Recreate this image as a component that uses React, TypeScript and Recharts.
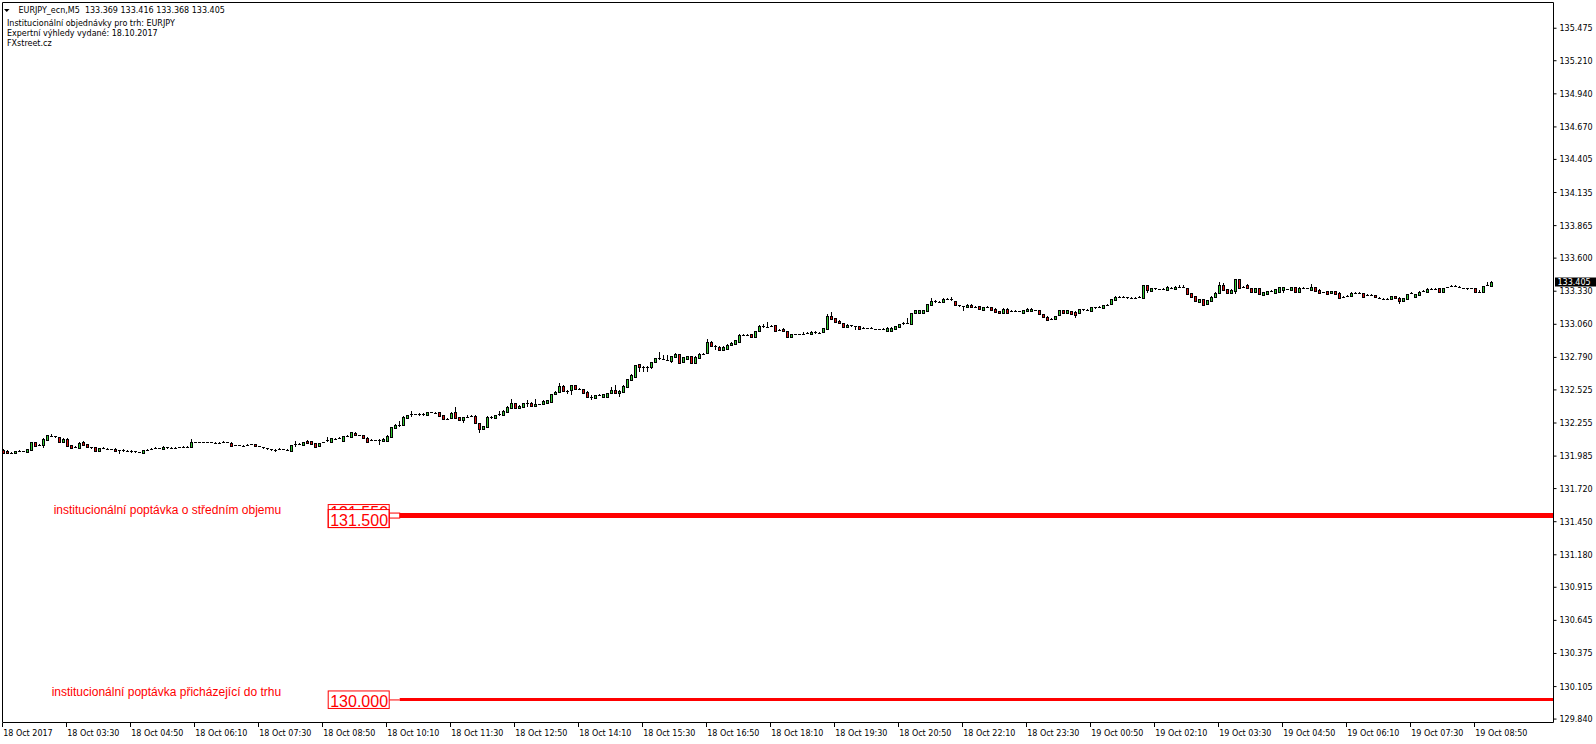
import React from "react";
import { ComposedChart, Bar, XAxis, YAxis, ReferenceLine } from "recharts";

// EURJPY_ecn M5, 18 Oct 2017 02:10 → 19 Oct 2017 09:10, one row per 80 minutes (16 bars)
const OPEN = [
  132.035, 132.030, 132.013, 132.011, 132.027, 132.028, 132.016, 132.035, 132.098, 132.070, 132.073, 132.119, 132.152, 132.150, 132.138, 132.103,
  132.125, 132.076, 132.062, 132.054, 132.100, 132.081, 132.057, 132.057, 132.024, 132.049, 132.046, 132.043, 132.046, 132.032, 132.032, 132.030,
  132.027, 132.024, 132.016, 132.011, 132.035, 132.038, 132.046, 132.049, 132.040, 132.057, 132.054, 132.051, 132.054, 132.057, 132.059, 132.062,
  132.100, 132.100, 132.098, 132.098, 132.098, 132.095, 132.095, 132.095, 132.100, 132.095, 132.073, 132.073, 132.070, 132.070, 132.078, 132.081,
  132.068, 132.060, 132.048, 132.040, 132.038, 132.040, 132.043, 132.038, 132.030, 132.076, 132.081, 132.073, 132.111, 132.108, 132.089, 132.068,
  132.095, 132.110, 132.100, 132.127, 132.127, 132.111, 132.149, 132.144, 132.176, 132.157, 132.157, 132.136, 132.117, 132.114, 132.111, 132.105,
  132.112, 132.144, 132.218, 132.238, 132.240, 132.299, 132.321, 132.327, 132.327, 132.325, 132.321, 132.343, 132.340, 132.343, 132.321, 132.289,
  132.294, 132.343, 132.305, 132.280, 132.305, 132.307, 132.316, 132.253, 132.204, 132.226, 132.307, 132.294, 132.321, 132.321, 132.348, 132.381,
  132.419, 132.381, 132.389, 132.419, 132.422, 132.397, 132.408, 132.411, 132.422, 132.430, 132.490, 132.506, 132.558, 132.514, 132.525, 132.566,
  132.530, 132.530, 132.509, 132.465, 132.457, 132.484, 132.465, 132.465, 132.498, 132.525, 132.503, 132.511, 132.552, 132.607, 132.634, 132.734,
  132.710, 132.715, 132.710, 132.756, 132.783, 132.775, 132.772, 132.764, 132.797, 132.816, 132.756, 132.781, 132.802, 132.748, 132.786, 132.819,
  132.824, 132.919, 132.887, 132.878, 132.851, 132.860, 132.889, 132.900, 132.919, 132.974, 132.971, 132.982, 132.960, 133.006, 133.045, 133.036,
  133.042, 133.055, 133.009, 133.025, 133.006, 132.955, 132.982, 132.979, 132.982, 132.984, 132.979, 133.001, 132.993, 132.995, 133.022, 133.128,
  133.109, 133.090, 133.069, 133.042, 133.052, 133.045, 133.047, 133.025, 133.028, 133.025, 133.022, 133.020, 133.020, 133.009, 133.009, 133.022,
  133.042, 133.061, 133.069, 133.061, 133.150, 133.156, 133.150, 133.172, 133.218, 133.251, 133.245, 133.243, 133.270, 133.264, 133.251, 133.215,
  133.210, 133.199, 133.221, 133.205, 133.207, 133.177, 133.202, 133.199, 133.186, 133.169, 133.150, 133.188, 133.172, 133.172, 133.169, 133.156,
  133.172, 133.172, 133.177, 133.175, 133.142, 133.123, 133.107, 133.104, 133.134, 133.177, 133.150, 133.169, 133.164, 133.150, 133.183, 133.175,
  133.172, 133.199, 133.194, 133.194, 133.218, 133.226, 133.259, 133.286, 133.286, 133.283, 133.273, 133.278, 133.278, 133.278, 133.381, 133.335,
  133.357, 133.346, 133.343, 133.341, 133.360, 133.346, 133.365, 133.368, 133.354, 133.313, 133.290, 133.245, 133.264, 133.224, 133.254, 133.286,
  133.313, 133.379, 133.349, 133.313, 133.332, 133.428, 133.360, 133.381, 133.354, 133.327, 133.354, 133.303, 133.308, 133.332, 133.319, 133.327,
  133.341, 133.346, 133.341, 133.365, 133.327, 133.357, 133.354, 133.341, 133.365, 133.341, 133.324, 133.332, 133.313, 133.332, 133.319, 133.283,
  133.286, 133.294, 133.319, 133.316, 133.316, 133.292, 133.300, 133.300, 133.278, 133.270, 133.267, 133.267, 133.289, 133.278, 133.254, 133.270,
  133.305, 133.286, 133.300, 133.327, 133.322, 133.351, 133.351, 133.357, 133.322, 133.362, 133.365, 133.370, 133.368, 133.357, 133.354, 133.351,
  133.357, 133.327, 133.322, 133.373, 133.369,
];

const HIGH = [
  132.040, 132.036, 132.016, 132.030, 132.035, 132.030, 132.043, 132.103, 132.103, 132.084, 132.130, 132.160, 132.163, 132.152, 132.144, 132.130,
  132.130, 132.079, 132.070, 132.100, 132.106, 132.084, 132.062, 132.062, 132.051, 132.057, 132.049, 132.046, 132.049, 132.038, 132.040, 132.035,
  132.032, 132.030, 132.019, 132.038, 132.046, 132.054, 132.057, 132.052, 132.065, 132.062, 132.057, 132.057, 132.059, 132.068, 132.068, 132.122,
  132.103, 132.103, 132.101, 132.101, 132.100, 132.098, 132.098, 132.111, 132.103, 132.098, 132.076, 132.076, 132.073, 132.084, 132.084, 132.084,
  132.070, 132.062, 132.052, 132.046, 132.043, 132.049, 132.046, 132.040, 132.076, 132.108, 132.089, 132.103, 132.116, 132.111, 132.092, 132.095,
  132.100, 132.138, 132.133, 132.136, 132.138, 132.152, 132.157, 132.185, 132.182, 132.160, 132.160, 132.138, 132.125, 132.117, 132.125, 132.131,
  132.155, 132.226, 132.244, 132.272, 132.310, 132.324, 132.356, 132.330, 132.340, 132.336, 132.346, 132.346, 132.343, 132.346, 132.324, 132.292,
  132.343, 132.384, 132.308, 132.308, 132.318, 132.324, 132.322, 132.256, 132.234, 132.310, 132.313, 132.324, 132.356, 132.357, 132.392, 132.449,
  132.422, 132.405, 132.422, 132.443, 132.425, 132.449, 132.414, 132.441, 132.444, 132.495, 132.514, 132.585, 132.561, 132.528, 132.569, 132.569,
  132.538, 132.533, 132.512, 132.481, 132.487, 132.495, 132.495, 132.501, 132.547, 132.563, 132.522, 132.561, 132.615, 132.653, 132.732, 132.737,
  132.723, 132.723, 132.756, 132.786, 132.838, 132.808, 132.808, 132.805, 132.824, 132.819, 132.794, 132.805, 132.805, 132.800, 132.822, 132.824,
  132.938, 132.922, 132.892, 132.881, 132.881, 132.898, 132.914, 132.936, 132.977, 132.979, 132.982, 132.985, 133.009, 133.053, 133.063, 133.077,
  133.058, 133.058, 133.022, 133.028, 133.009, 132.985, 132.985, 132.985, 132.995, 132.995, 133.004, 133.004, 133.001, 133.031, 133.145, 133.164,
  133.112, 133.093, 133.072, 133.060, 133.055, 133.047, 133.050, 133.042, 133.030, 133.039, 133.025, 133.023, 133.028, 133.036, 133.036, 133.050,
  133.064, 133.077, 133.109, 133.153, 133.180, 133.180, 133.180, 133.229, 133.273, 133.256, 133.254, 133.273, 133.273, 133.281, 133.254, 133.218,
  133.213, 133.224, 133.224, 133.208, 133.210, 133.205, 133.213, 133.202, 133.189, 133.172, 133.191, 133.191, 133.175, 133.175, 133.172, 133.178,
  133.191, 133.191, 133.180, 133.178, 133.145, 133.126, 133.110, 133.131, 133.178, 133.180, 133.178, 133.172, 133.167, 133.186, 133.186, 133.188,
  133.202, 133.202, 133.207, 133.218, 133.224, 133.267, 133.289, 133.294, 133.292, 133.286, 133.286, 133.286, 133.289, 133.384, 133.384, 133.360,
  133.360, 133.349, 133.357, 133.371, 133.365, 133.370, 133.378, 133.378, 133.357, 133.316, 133.293, 133.270, 133.267, 133.259, 133.289, 133.322,
  133.403, 133.395, 133.352, 133.344, 133.431, 133.431, 133.376, 133.387, 133.357, 133.357, 133.357, 133.325, 133.335, 133.340, 133.349, 133.365,
  133.365, 133.349, 133.368, 133.368, 133.363, 133.362, 133.357, 133.390, 133.368, 133.344, 133.327, 133.335, 133.335, 133.335, 133.322, 133.294,
  133.300, 133.322, 133.324, 133.324, 133.319, 133.308, 133.308, 133.303, 133.281, 133.273, 133.275, 133.292, 133.292, 133.281, 133.276, 133.308,
  133.321, 133.311, 133.330, 133.338, 133.354, 133.359, 133.359, 133.360, 133.360, 133.368, 133.378, 133.378, 133.371, 133.360, 133.360, 133.357,
  133.360, 133.338, 133.376, 133.409, 133.416,
];

const LOW = [
  132.005, 132.006, 132.010, 132.008, 132.020, 132.024, 132.013, 132.030, 132.065, 132.065, 132.049, 132.116, 132.138, 132.136, 132.097, 132.100,
  132.068, 132.046, 132.054, 132.049, 132.073, 132.054, 132.040, 132.019, 132.019, 132.040, 132.040, 132.038, 132.021, 132.002, 132.016, 132.016,
  132.013, 132.011, 132.008, 132.008, 132.030, 132.035, 132.040, 132.046, 132.038, 132.046, 132.040, 132.049, 132.051, 132.051, 132.051, 132.059,
  132.097, 132.095, 132.095, 132.095, 132.092, 132.092, 132.092, 132.092, 132.092, 132.068, 132.070, 132.068, 132.068, 132.068, 132.076, 132.062,
  132.065, 132.043, 132.032, 132.030, 132.021, 132.038, 132.038, 132.030, 132.021, 132.062, 132.073, 132.070, 132.086, 132.081, 132.059, 132.065,
  132.092, 132.100, 132.097, 132.119, 132.122, 132.108, 132.141, 132.141, 132.155, 132.155, 132.127, 132.089, 132.108, 132.108, 132.076, 132.100,
  132.108, 132.131, 132.215, 132.226, 132.237, 132.296, 132.307, 132.324, 132.313, 132.316, 132.318, 132.337, 132.335, 132.313, 132.283, 132.280,
  132.291, 132.296, 132.277, 132.259, 132.297, 132.305, 132.250, 132.172, 132.201, 132.223, 132.291, 132.291, 132.316, 132.318, 132.345, 132.378,
  132.378, 132.375, 132.386, 132.389, 132.394, 132.389, 132.405, 132.408, 132.419, 132.427, 132.487, 132.503, 132.511, 132.492, 132.484, 132.527,
  132.522, 132.500, 132.462, 132.443, 132.454, 132.478, 132.462, 132.462, 132.495, 132.500, 132.471, 132.508, 132.549, 132.604, 132.631, 132.675,
  132.672, 132.672, 132.694, 132.753, 132.772, 132.769, 132.769, 132.743, 132.794, 132.745, 132.753, 132.778, 132.745, 132.745, 132.783, 132.808,
  132.821, 132.884, 132.851, 132.851, 132.848, 132.857, 132.886, 132.897, 132.916, 132.963, 132.963, 132.952, 132.957, 133.003, 133.030, 133.033,
  133.036, 133.006, 133.003, 133.000, 132.957, 132.949, 132.976, 132.976, 132.976, 132.979, 132.976, 132.985, 132.985, 132.992, 133.019, 133.101,
  133.077, 133.066, 133.039, 133.036, 133.039, 133.014, 133.022, 133.022, 133.022, 133.020, 133.017, 133.017, 133.011, 133.006, 133.006, 133.019,
  133.039, 133.058, 133.061, 133.058, 133.147, 133.153, 133.147, 133.169, 133.215, 133.237, 133.237, 133.240, 133.256, 133.251, 133.212, 133.202,
  133.172, 133.196, 133.202, 133.202, 133.180, 133.174, 133.196, 133.174, 133.161, 133.147, 133.147, 133.153, 133.169, 133.169, 133.164, 133.153,
  133.169, 133.169, 133.172, 133.139, 133.115, 133.093, 133.104, 133.101, 133.131, 133.147, 133.147, 133.139, 133.115, 133.147, 133.167, 133.172,
  133.169, 133.186, 133.191, 133.191, 133.215, 133.223, 133.256, 133.278, 133.275, 133.264, 133.270, 133.270, 133.273, 133.275, 133.319, 133.332,
  133.341, 133.338, 133.338, 133.338, 133.346, 133.343, 133.357, 133.354, 133.303, 133.278, 133.243, 133.240, 133.215, 133.221, 133.251, 133.283,
  133.310, 133.338, 133.316, 133.310, 133.305, 133.357, 133.357, 133.351, 133.319, 133.324, 133.302, 133.300, 133.305, 133.324, 133.316, 133.324,
  133.319, 133.343, 133.338, 133.321, 133.324, 133.346, 133.349, 133.338, 133.327, 133.310, 133.321, 133.305, 133.310, 133.305, 133.275, 133.278,
  133.281, 133.291, 133.308, 133.308, 133.283, 133.292, 133.292, 133.278, 133.272, 133.264, 133.259, 133.264, 133.270, 133.226, 133.251, 133.267,
  133.305, 133.283, 133.297, 133.322, 133.319, 133.343, 133.343, 133.319, 133.319, 133.360, 133.362, 133.362, 133.362, 133.351, 133.343, 133.348,
  133.324, 133.316, 133.319, 133.370, 133.368,
];

const CLOSE = [
  132.011, 132.010, 132.012, 132.027, 132.028, 132.027, 132.040, 132.098, 132.068, 132.076, 132.127, 132.155, 132.153, 132.144, 132.100, 132.125,
  132.070, 132.051, 132.062, 132.095, 132.076, 132.057, 132.057, 132.024, 132.049, 132.049, 132.043, 132.040, 132.024, 132.032, 132.030, 132.027,
  132.024, 132.019, 132.013, 132.035, 132.038, 132.046, 132.049, 132.049, 132.062, 132.054, 132.049, 132.054, 132.057, 132.059, 132.059, 132.100,
  132.100, 132.098, 132.098, 132.098, 132.095, 132.095, 132.095, 132.103, 132.095, 132.070, 132.073, 132.070, 132.070, 132.076, 132.081, 132.065,
  132.068, 132.051, 132.040, 132.038, 132.035, 132.046, 132.040, 132.035, 132.073, 132.081, 132.081, 132.100, 132.089, 132.084, 132.062, 132.092,
  132.098, 132.117, 132.130, 132.127, 132.130, 132.149, 132.149, 132.182, 132.157, 132.157, 132.130, 132.100, 132.117, 132.111, 132.117, 132.128,
  132.152, 132.222, 132.240, 132.242, 132.307, 132.321, 132.327, 132.327, 132.325, 132.327, 132.343, 132.340, 132.338, 132.316, 132.286, 132.289,
  132.340, 132.299, 132.280, 132.305, 132.307, 132.316, 132.253, 132.204, 132.231, 132.307, 132.299, 132.321, 132.329, 132.354, 132.389, 132.419,
  132.381, 132.395, 132.419, 132.422, 132.397, 132.408, 132.411, 132.438, 132.441, 132.492, 132.511, 132.558, 132.514, 132.520, 132.566, 132.530,
  132.530, 132.503, 132.465, 132.465, 132.484, 132.487, 132.492, 132.498, 132.525, 132.503, 132.514, 132.558, 132.612, 132.650, 132.729, 132.710,
  132.715, 132.715, 132.753, 132.783, 132.778, 132.772, 132.772, 132.802, 132.821, 132.748, 132.791, 132.802, 132.748, 132.797, 132.819, 132.816,
  132.919, 132.887, 132.884, 132.854, 132.878, 132.895, 132.911, 132.933, 132.974, 132.971, 132.974, 132.955, 133.006, 133.050, 133.036, 133.042,
  133.050, 133.009, 133.014, 133.003, 132.960, 132.982, 132.979, 132.982, 132.984, 132.987, 133.001, 132.993, 132.993, 133.028, 133.128, 133.104,
  133.080, 133.069, 133.042, 133.052, 133.047, 133.042, 133.025, 133.033, 133.025, 133.031, 133.020, 133.020, 133.020, 133.033, 133.033, 133.047,
  133.061, 133.069, 133.069, 133.150, 133.177, 133.177, 133.177, 133.226, 133.251, 133.245, 133.245, 133.270, 133.264, 133.259, 133.215, 133.210,
  133.205, 133.221, 133.205, 133.205, 133.183, 133.202, 133.205, 133.177, 133.164, 133.150, 133.188, 133.156, 133.172, 133.172, 133.167, 133.175,
  133.188, 133.188, 133.175, 133.142, 133.118, 133.096, 133.107, 133.128, 133.175, 133.150, 133.175, 133.142, 133.137, 133.183, 133.175, 133.180,
  133.199, 133.194, 133.199, 133.215, 133.221, 133.264, 133.286, 133.286, 133.283, 133.273, 133.278, 133.278, 133.281, 133.381, 133.341, 133.357,
  133.350, 133.343, 133.350, 133.368, 133.356, 133.365, 133.368, 133.362, 133.306, 133.281, 133.248, 133.267, 133.221, 133.256, 133.286, 133.319,
  133.379, 133.341, 133.319, 133.341, 133.428, 133.360, 133.368, 133.354, 133.322, 133.354, 133.305, 133.322, 133.332, 133.332, 133.346, 133.362,
  133.362, 133.346, 133.365, 133.324, 133.360, 133.354, 133.351, 133.365, 133.330, 133.313, 133.324, 133.308, 133.332, 133.308, 133.278, 133.286,
  133.292, 133.319, 133.316, 133.316, 133.286, 133.300, 133.300, 133.281, 133.275, 133.267, 133.267, 133.289, 133.278, 133.251, 133.273, 133.305,
  133.313, 133.308, 133.327, 133.330, 133.351, 133.351, 133.351, 133.322, 133.357, 133.365, 133.370, 133.370, 133.365, 133.354, 133.351, 133.354,
  133.327, 133.327, 133.373, 133.381, 133.405,
];

// time axis: bar index of each label, and the label text
const TICK_BARS = [0, 16, 32, 48, 64, 80, 96, 112, 128, 144, 160, 176, 192, 208, 224, 240, 256, 272, 288, 304, 320, 336, 352, 368];
const TICK_LABELS = [
  "18 Oct 2017", "18 Oct 03:30", "18 Oct 04:50", "18 Oct 06:10", "18 Oct 07:30", "18 Oct 08:50",
  "18 Oct 10:10", "18 Oct 11:30", "18 Oct 12:50", "18 Oct 14:10", "18 Oct 15:30", "18 Oct 16:50",
  "18 Oct 18:10", "18 Oct 19:30", "18 Oct 20:50", "18 Oct 22:10", "18 Oct 23:30", "19 Oct 00:50",
  "19 Oct 02:10", "19 Oct 03:30", "19 Oct 04:50", "19 Oct 06:10", "19 Oct 07:30", "19 Oct 08:50",
];

const PRICE_TICKS = [
  135.475, 135.21, 134.94, 134.67, 134.405, 134.135, 133.865, 133.6, 133.33, 133.06, 132.79,
  132.525, 132.255, 131.985, 131.72, 131.45, 131.18, 130.915, 130.645, 130.375, 130.105, 129.84,
];

const HEADER = [
  "Institucionální objednávky pro trh: EURJPY",
  "Expertní výhledy vydané: 18.10.2017",
  "FXstreet.cz",
];

// institutional demand levels
const LEVEL_MID = 131.5;
const LEVEL_MID_SHADOW = 131.55;
const LEVEL_LOW = 130.0;
const LEVEL_START_BAR = 99;
const LEVEL_MID_TEXT = "institucionální poptávka o středním objemu";
const LEVEL_LOW_TEXT = "institucionální poptávka přicházející do trhu";

const X_DOMAIN: [number, number] = [-0.3, 387.45];
const Y_DOMAIN: [number, number] = [129.812, 135.685];

const BULL = "#32cd32";
const BEAR = "#e01010";
const LEVEL = "#ff0000";
const UI_FONT = "'DejaVu Sans', Tahoma, sans-serif";
const LABEL_FONT = "'Liberation Sans', Arial, sans-serif";

const LAST_PRICE = CLOSE[CLOSE.length - 1];

const candles = OPEN.map((o, i) => ({
  i,
  open: o,
  high: HIGH[i],
  low: LOW[i],
  close: CLOSE[i],
  range: [LOW[i], HIGH[i]],
}));

function Candle(props: any) {
  const { x, y, width, height, payload } = props;
  if (!payload || x == null) return null;
  const { open, close, high, low } = payload;
  const top = height < 0 ? y + height : y;
  const h = Math.abs(height);
  const k = high > low ? h / (high - low) : 0;
  const cx = Math.floor(x + width / 2) + 0.5;
  const yOf = (v: number) => top + (high - v) * k;
  const bTop = Math.round(yOf(Math.max(open, close))) + 0.5;
  const bBot = Math.round(yOf(Math.min(open, close))) + 0.5;
  const wick = (
    <line x1={cx} x2={cx} y1={top} y2={top + h} stroke="#000" strokeWidth={1} />
  );
  if (bBot - bTop < 1.5) {
    return (
      <g shapeRendering="crispEdges">
        {wick}
        <line x1={cx - 1.5} x2={cx + 1.5} y1={bTop} y2={bTop} stroke="#000" strokeWidth={1} />
      </g>
    );
  }
  return (
    <g shapeRendering="crispEdges">
      {wick}
      <rect
        x={cx - 1}
        y={bTop}
        width={2}
        height={bBot - bTop}
        fill={close > open ? BULL : BEAR}
        stroke="#000"
        strokeWidth={1}
      />
    </g>
  );
}

function TimeTick(props: any) {
  const { x, y, payload } = props;
  const idx = TICK_BARS.indexOf(payload.value);
  return (
    <g>
      <line x1={x - 1} x2={x - 1} y1={y} y2={y + 4} stroke="#000" shapeRendering="crispEdges" />
      <text x={x - 0.5} y={y + 13} fontSize={8} fontFamily={UI_FONT} fill="#000" textAnchor="start">
        {TICK_LABELS[idx] ?? ""}
      </text>
    </g>
  );
}

function PriceTick(props: any) {
  const { x, y, payload } = props;
  return (
    <text x={x} y={y + 3} fontSize={8} fontFamily={UI_FONT} fill="#000" textAnchor="start">
      {Number(payload.value).toFixed(3)}
    </text>
  );
}

function LastPriceLabel(props: any) {
  const vb = props.viewBox;
  if (!vb) return null;
  const left = vb.x + vb.width + 1.5;
  return (
    <g>
      <rect x={left} y={vb.y - 4.5} width={42} height={9} fill="#000" />
      <text x={left + 2.5} y={vb.y + 3} fontSize={8} fontFamily={UI_FONT} fill="#fff">
        {LAST_PRICE.toFixed(3)}
      </text>
    </g>
  );
}

function MidLevelLabel(props: any) {
  const vb = props.viewBox;
  if (!vb) return null;
  const lx = vb.x;
  const ly = vb.y;
  return (
    <g>
      <text x={lx - 346} y={ly - 1.5} fontSize={12} fontFamily={LABEL_FONT} fill={LEVEL}>
        {LEVEL_MID_TEXT}
      </text>
      <rect x={lx - 10.5} y={ly - 2.5} width={10.5} height={5} fill="#fff" stroke={LEVEL} />
      <text x={lx - 69.5} y={ly + 2.5} fontSize={16} fontFamily={LABEL_FONT} fill={LEVEL}>
        {LEVEL_MID_SHADOW.toFixed(3)}
      </text>
      <rect x={lx - 71.5} y={ly - 6} width={61} height={18} fill="#fff" stroke={LEVEL} />
      <text x={lx - 69.5} y={ly + 10.5} fontSize={16} fontFamily={LABEL_FONT} fill={LEVEL}>
        {LEVEL_MID.toFixed(3)}
      </text>
      <rect x={lx - 71.5} y={ly - 11} width={61} height={23} fill="none" stroke={LEVEL} />
    </g>
  );
}

function LowLevelLabel(props: any) {
  const vb = props.viewBox;
  if (!vb) return null;
  const lx = vb.x;
  const ly = vb.y;
  return (
    <g>
      <text x={lx - 348} y={ly - 3.5} fontSize={12} fontFamily={LABEL_FONT} fill={LEVEL}>
        {LEVEL_LOW_TEXT}
      </text>
      <line x1={lx - 10.5} x2={lx} y1={ly + 0.5} y2={ly + 0.5} stroke={LEVEL} />
      <rect x={lx - 71.5} y={ly - 8.5} width={61} height={17.5} fill="#fff" stroke={LEVEL} />
      <text x={lx - 69.5} y={ly + 7.5} fontSize={16} fontFamily={LABEL_FONT} fill={LEVEL}>
        {LEVEL_LOW.toFixed(3)}
      </text>
    </g>
  );
}

export default function App() {
  return (
    <div
      style={{
        position: "absolute",
        left: 0,
        top: 0,
        width: 1596,
        height: 744,
        background: "#fff",
        overflow: "hidden",
      }}
    >
      <ComposedChart
        width={1596}
        height={744}
        data={candles}
        margin={{ top: 2.5, right: 0, bottom: 0, left: 2.5 }}
      >
        <XAxis
          type="number"
          dataKey="i"
          domain={X_DOMAIN}
          allowDataOverflow
          ticks={TICK_BARS}
          interval={0}
          height={21.5}
          tickSize={0}
          tickMargin={0}
          tickLine={false}
          axisLine={{ stroke: "#000" }}
          tick={<TimeTick />}
        />
        <YAxis
          orientation="right"
          type="number"
          domain={Y_DOMAIN}
          allowDataOverflow
          ticks={PRICE_TICKS}
          interval={0}
          width={42.5}
          tickSize={3}
          tickMargin={3}
          axisLine={{ stroke: "#000" }}
          tickLine={{ stroke: "#000" }}
          tick={<PriceTick />}
        />
        {/* chart frame: top and left edges */}
        <ReferenceLine y={Y_DOMAIN[1]} stroke="#000" />
        <ReferenceLine x={X_DOMAIN[0]} stroke="#000" />

        <Bar dataKey="range" barSize={3} shape={(p: any) => <Candle {...p} />} isAnimationActive={false} />

        <ReferenceLine
          segment={[
            { x: LEVEL_START_BAR, y: LEVEL_MID },
            { x: X_DOMAIN[1], y: LEVEL_MID },
          ]}
          stroke={LEVEL}
          strokeWidth={5}
          label={<MidLevelLabel />}
        />
        <ReferenceLine
          segment={[
            { x: LEVEL_START_BAR, y: LEVEL_LOW },
            { x: X_DOMAIN[1], y: LEVEL_LOW },
          ]}
          stroke={LEVEL}
          strokeWidth={3}
          label={<LowLevelLabel />}
        />
        <ReferenceLine y={LAST_PRICE} stroke="none" label={<LastPriceLabel />} />
      </ComposedChart>

      <div
        style={{
          position: "absolute",
          left: 0,
          top: 0,
          fontFamily: UI_FONT,
          fontSize: 8,
          color: "#000",
          pointerEvents: "none",
        }}
      >
        <svg width={12} height={14} style={{ position: "absolute", left: 0, top: 0 }}>
          <polygon points="4,9 9.5,9 6.75,12" fill="#000" />
        </svg>
        <div style={{ position: "absolute", left: 18.5, top: 5.7, lineHeight: "10px", whiteSpace: "pre" }}>
          {"EURJPY_ecn,M5  133.369 133.416 133.368 133.405"}
        </div>
        {HEADER.map((line, n) => (
          <div
            key={n}
            style={{ position: "absolute", left: 7, top: 19 + n * 10, lineHeight: "10px", whiteSpace: "pre" }}
          >
            {line}
          </div>
        ))}
      </div>
    </div>
  );
}
